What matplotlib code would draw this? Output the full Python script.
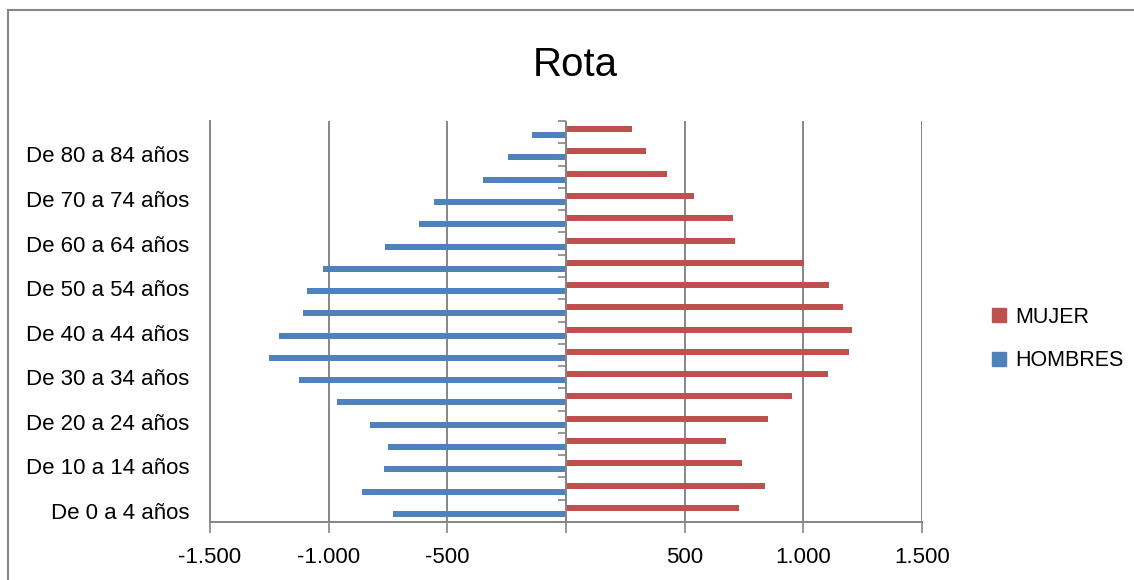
import matplotlib.pyplot as plt
from matplotlib.patches import Rectangle, Patch
from matplotlib.markers import TICKLEFT
import numpy as np

plt.rcParams['font.family'] = ['Liberation Sans', 'DejaVu Sans']

# age groups, bottom to top
grupos = ["De 0 a 4 años", "De 5 a 9 años", "De 10 a 14 años", "De 15 a 19 años",
          "De 20 a 24 años", "De 25 a 29 años", "De 30 a 34 años", "De 35 a 39 años",
          "De 40 a 44 años", "De 45 a 49 años", "De 50 a 54 años", "De 55 a 59 años",
          "De 60 a 64 años", "De 65 a 69 años", "De 70 a 74 años", "De 75 a 79 años",
          "De 80 a 84 años", "De 85 y más años"]
mujer = [731, 838, 743, 674, 851, 952, 1103, 1191, 1207, 1167,
         1108, 1003, 713, 702, 539, 426, 338, 276]
hombres = [-729, -861, -768, -751, -824, -964, -1123, -1250, -1208, -1110,
           -1093, -1023, -762, -618, -556, -349, -245, -142]
xticks = [-1500, -1000, -500, 0, 500, 1000, 1500]
xlabels = ["-1.500", "-1.000", "-500", "", "500", "1.000", "1.500"]

rojo = "#C0504D"
azul = "#4F81BD"
gris = "#868686"

fig = plt.figure(figsize=(11.34, 5.8), dpi=100)
ax = fig.add_axes([210/1134, 1-522/580, 712/1134, 401/580])

y = np.arange(len(grupos))
h = 0.27
ax.barh(y + h/2, mujer, height=h, color=rojo, label="MUJER", zorder=3)
ax.barh(y - h/2, hombres, height=h, color=azul, label="HOMBRES", zorder=3)

ax.set_xlim(-1500, 1500)
ax.set_ylim(-0.5, len(grupos) - 0.5)
ax.set_xticks(xticks, xlabels, fontsize=16)
ax.set_yticks(y[::2], grupos[::2], fontsize=16)
ax.tick_params(axis='y', length=0, pad=15)
ax.tick_params(axis='x', length=8, width=1.2, color=gris, pad=10)
ax.grid(axis='x', color=gris, lw=1.4, zorder=0)
for s in ['top', 'right']:
    ax.spines[s].set_visible(False)
for s in ['left', 'bottom']:
    ax.spines[s].set_color(gris)
    ax.spines[s].set_linewidth(1.4)

# vertical axis at zero with category ticks pointing left
ax.axvline(0, color=gris, lw=1.4, zorder=4)
bordes = np.arange(len(grupos) + 1) - 0.5
ax.plot(np.zeros(len(bordes)), bordes, ls='none', marker=TICKLEFT, ms=5.5,
        mew=1.2, color=gris, zorder=4, clip_on=False)

fig.text(575/1134, 1-65/580, "Rota", fontsize=29, ha='center', va='center')

handles = [Patch(color=rojo), Patch(color=azul)]
fig.legend(handles, ["MUJER", "HOMBRES"], loc='center left',
           bbox_to_anchor=(973/1134, 1-339/580), frameon=False, fontsize=15.5,
           handlelength=0.65, handleheight=0.65, handletextpad=0.4, labelspacing=1.05)

fig.patches.append(Rectangle((8/1134, -0.1), 1.2, 1-10/580 + 0.1, transform=fig.transFigure,
                             fill=False, edgecolor=gris, lw=1.5))

plt.savefig("out.png", dpi=100)
